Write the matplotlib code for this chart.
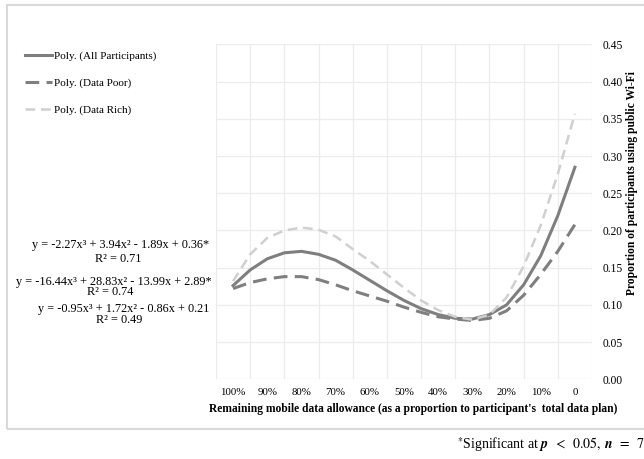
import numpy as np
import matplotlib
matplotlib.use('Agg')
import matplotlib.pyplot as plt
from matplotlib.patches import Rectangle

plt.rcParams['font.family'] = ['Liberation Serif', 'DejaVu Serif']
plt.rcParams['mathtext.fontset'] = 'stix'

# categories on the x axis (remaining data allowance)
cats = ['100%', '90%', '80%', '70%', '60%', '50%', '40%', '30%', '20%', '10%', '0']

# values, every half category
steps = [0, 0.5, 1, 1.5, 2, 2.5, 3, 3.5, 4, 4.5, 5, 5.5, 6, 6.5, 7, 7.5, 8, 8.5, 9, 9.5, 10]
all_part = [0.126, 0.147, 0.162, 0.170, 0.172, 0.168, 0.160, 0.147, 0.133, 0.119, 0.106,
            0.095, 0.087, 0.082, 0.081, 0.087, 0.100, 0.127, 0.166, 0.220, 0.285]
data_poor = [0.122, 0.130, 0.135, 0.138, 0.138, 0.134, 0.127, 0.119, 0.112, 0.105, 0.097,
             0.090, 0.084, 0.081, 0.079, 0.082, 0.092, 0.113, 0.141, 0.172, 0.208]
data_rich = [0.132, 0.168, 0.190, 0.200, 0.204, 0.201, 0.192, 0.175, 0.159, 0.141, 0.123,
             0.106, 0.093, 0.084, 0.080, 0.087, 0.110, 0.152, 0.207, 0.276, 0.357]

eqs = ['y = -2.27x³ + 3.94x² - 1.89x + 0.36*',
       'y = -16.44x³ + 28.83x² - 13.99x + 2.89*',
       'y = -0.95x³ + 1.72x² - 0.86x + 0.21']
r2 = ['R² = 0.71', 'R² = 0.74', 'R² = 0.49']

W, H = 644, 459
fig = plt.figure(figsize=(W / 100, H / 100), dpi=100)
ax = fig.add_axes([216 / W, 1 - 379.3 / H, 376 / W, 334.8 / H])

ax.plot(steps, all_part, color='#7f7f7f', lw=2.2, label='Poly. (All Participants)')
ax.plot(steps, data_poor, color='#7f7f7f', lw=2.2, dashes=(4.5, 2.4), label='Poly. (Data Poor)')
ax.plot(steps, data_rich, color='#d0d0d0', lw=1.8, dashes=(3.9, 2.3), label='Poly. (Data Rich)')

ax.set_xlim(-0.5, 10.5)
ax.set_ylim(0, 0.45)
ax.set_xticks(range(len(cats)))
ax.set_xticklabels(cats, fontsize=7.8)
ax.set_xticks(np.arange(-0.5, 11, 1), minor=True)
ax.set_yticks(np.arange(0, 0.46, 0.05))
ax.set_yticklabels(['%.2f' % v for v in np.arange(0, 0.46, 0.05)], fontsize=8.3)
ax.yaxis.tick_right()
ax.tick_params(axis='both', which='both', length=0)
ax.tick_params(axis='y', pad=8)
ax.tick_params(axis='x', pad=6)
ax.grid(axis='y', color='#ececec', lw=0.9)
ax.grid(axis='x', which='minor', color='#ececec', lw=0.9)
for s in ax.spines.values():
    s.set_visible(False)

fig.text(413 / W, 1 - 409 / H, "Remaining mobile data allowance (as a proportion to participant's  total data plan)",
         ha='center', va='center', fontsize=8.3, fontweight='bold')
fig.text(632 / W, 1 - 183 / H, 'Proportion of participants using public Wi-Fi',
         ha='center', va='center', rotation=90, fontsize=8.3, fontweight='bold')

ax.legend(loc='upper left', bbox_to_anchor=(25 / W, 1 - 51 / H), bbox_transform=fig.transFigure,
          frameon=False, fontsize=8, handlelength=2.4, handletextpad=0.2, labelspacing=1.52,
          borderaxespad=0, borderpad=0)

eq_pos = [(121, 245, 118, 259), (113.5, 281.5, 110, 292), (123.5, 309, 119, 320)]
for (ex, ey, rx, ry), e, r in zip(eq_pos, eqs, r2):
    fig.text(ex / W, 1 - ey / H, e, ha='center', va='center', fontsize=8.8)
    fig.text(rx / W, 1 - ry / H, r, ha='center', va='center', fontsize=8.8)

fig.text(457 / W, 1 - 445 / H, r'$^{*}$Significant at $\mathbfit{p}\;\;<\;\;0.05,\;\mathbfit{n}\;\;=\;\;73$',
         ha='left', va='center', fontsize=10)

fig.patches.append(Rectangle((6.5 / W, 1 - 429 / H), 700 / W, 424 / H, transform=fig.transFigure,
                             fill=False, edgecolor='#d9d9d9', lw=1.5))

fig.savefig('out.png', dpi=100)
